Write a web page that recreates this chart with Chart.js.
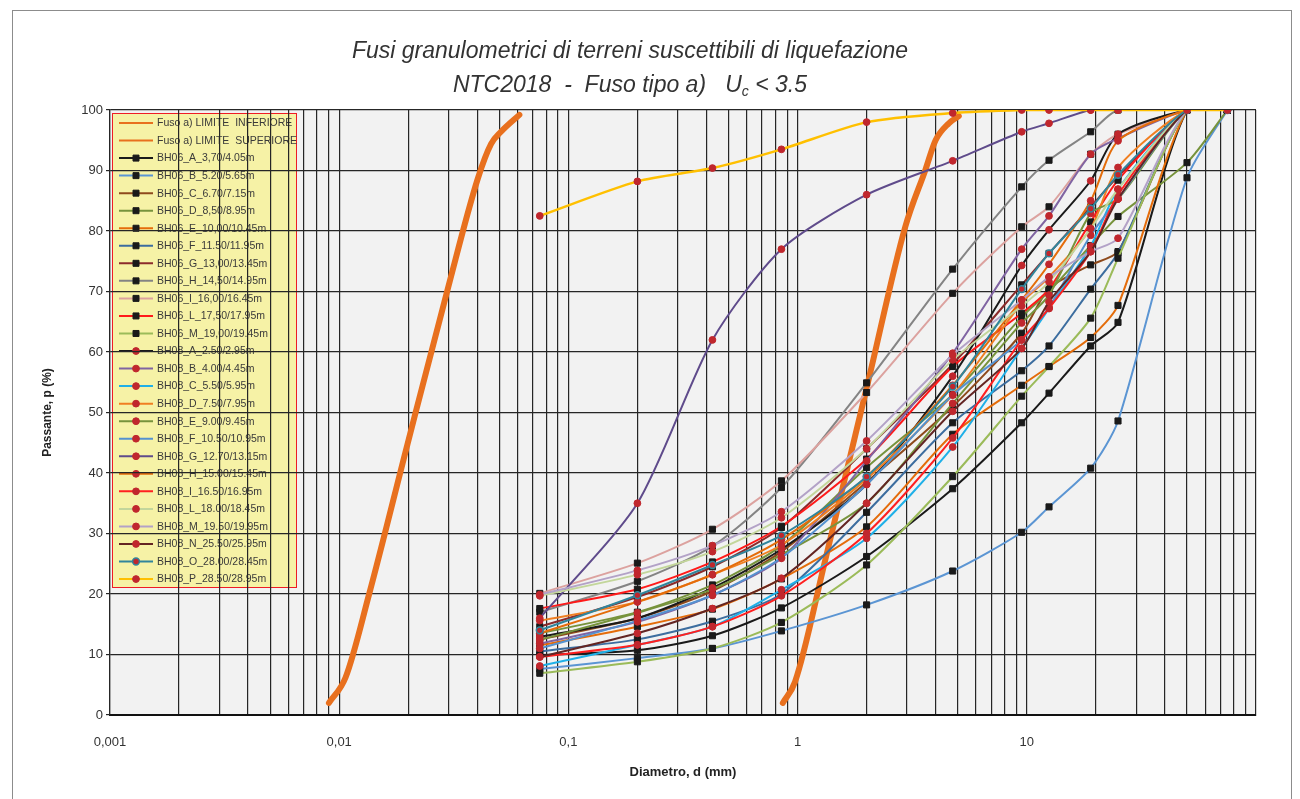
<!DOCTYPE html>
<html>
<head>
<meta charset="utf-8">
<script src="https://cdn.jsdelivr.net/npm/chart.js@4.4.1/dist/chart.umd.min.js"></script>
<style>
    body { margin: 0; background: #fff; }
    #wrap { position: relative; width: 1300px; height: 799px; overflow: hidden; }
    #frame { position: absolute; left: 12px; top: 10px; width: 1278px; height: 800px; border: 1px solid #8c8c8c; }
    #c { position: absolute; left: 0; top: 0; }
    #title {
        position: absolute; left: 280px; width: 700px; top: 33px; text-align: center;
        font: italic 23px 'Liberation Sans Narrow', 'Arial Narrow', Arial, sans-serif;
        color: #333; line-height: 34px;
    }
    #title sub { font-size: 14px; vertical-align: -4px; line-height: 0; }
</style>
</head>
<body>
<div id="wrap">
    <div id="frame"></div>
    <canvas id="c" width="1300" height="799"></canvas>
    <div id="title">Fusi granulometrici di terreni suscettibili di liquefazione<br>NTC2018&nbsp; - &nbsp;Fuso tipo a) &nbsp; U<sub>c</sub> &lt; 3.5</div>
</div>
<script>
// sieve sizes (mm)
const sieveSizes = [0.075, 0.2, 0.425, 0.85, 2, 4.75, 9.5, 12.5, 19, 25, 50, 75];

// fuso limits
const fusoInfD = [0.862, 0.975, 1.32, 2.04, 2.95, 3.61, 4.0, 4.57, 5.05];
const fusoInfP = [2.0, 5.5, 25.6, 55.4, 80.7, 90.1, 95.0, 97.8, 99.0];
const fusoSupD = [0.00902, 0.01066, 0.01349, 0.01987, 0.0297, 0.0402, 0.046, 0.0508, 0.0611];
const fusoSupP = [2.0, 6.2, 19.9, 44.8, 70.3, 88.6, 94.4, 96.4, 99.2];

// passing (%) per sample
const bh06_A = [9.9, 10.7, 13.1, 17.7, 26.2, 37.4, 48.3, 53.2, 61.0, 64.9, 100, 100];
const bh06_B = [7.6, 9.4, 11.0, 13.9, 18.2, 23.8, 30.2, 34.4, 40.8, 48.6, 88.8, 100];
const bh06_C = [12.5, 16.0, 20.5, 27.0, 38.5, 51.0, 63.1, 70.5, 74.4, 76.6, 100, 100];
const bh06_D = [13.5, 17.0, 21.5, 28.0, 40.9, 53.0, 65.8, 70.0, 77.6, 82.4, 91.3, 100];
const bh06_E = [11.5, 14.6, 17.5, 22.5, 31.1, 46.4, 54.5, 57.6, 62.4, 67.7, 100, 100];
const bh06_F = [10.5, 12.5, 15.5, 20.0, 33.5, 48.3, 56.9, 61.0, 70.4, 76.4, 100, 100];
const bh06_G = [14.6, 19.5, 24.5, 31.0, 44.0, 58.0, 71.1, 76.3, 84.0, 89.0, 100, 100];
const bh06_H = [17.0, 22.1, 27.9, 37.6, 54.9, 73.7, 87.3, 91.7, 96.4, 100, 100, 100];
const bh06_I = [20.1, 25.1, 30.7, 38.7, 53.3, 69.7, 80.7, 84.0, 92.7, 96.0, 100, 100];
const bh06_L = [17.6, 20.8, 25.3, 31.2, 42.3, 57.6, 66.4, 70.4, 81.5, 88.4, 100, 100];
const bh06_M = [6.9, 8.8, 11.0, 15.3, 24.8, 39.4, 52.7, 57.6, 65.6, 75.5, 100, 100];

const bh08_A = [12.9, 16.0, 21.0, 27.4, 38.1, 56.0, 74.3, 80.2, 88.3, 96.0, 100, 100];
const bh08_B = [11.8, 15.4, 19.8, 25.9, 42.0, 59.8, 77.0, 82.5, 92.7, 95.3, 100, 100];
const bh08_C = [8.1, 11.6, 14.6, 20.7, 29.2, 44.3, 60.6, 67.2, 77.5, 86.9, 100, 100];
const bh08_D = [15.6, 18.7, 23.2, 28.1, 39.0, 52.9, 68.1, 72.4, 80.4, 90.5, 100, 100];
const bh08_E = [12.4, 16.9, 20.8, 26.5, 35.0, 51.5, 64.8, 69.4, 82.9, 85.3, 100, 100];
const bh08_F = [11.0, 15.6, 19.8, 26.0, 38.1, 52.9, 62.0, 67.4, 79.3, 85.3, 100, 100];
const bh08_G = [16.0, 35.0, 62.0, 77.0, 86.0, 91.6, 96.4, 97.8, 100, 100, 100, 100];
const bh08_H = [13.5, 18.7, 23.2, 29.0, 39.4, 54.5, 68.6, 74.5, 85.0, 94.9, 100, 100];
const bh08_I = [9.6, 11.6, 14.6, 19.7, 30.0, 45.8, 62.0, 67.2, 76.6, 86.0, 100, 100];
const bh08_L = [19.7, 23.2, 27.0, 32.6, 44.0, 58.7, 67.6, 71.6, 80.4, 86.9, 100, 100];
const bh08_M = [19.9, 23.9, 28.0, 33.6, 45.3, 59.5, 68.6, 72.4, 76.6, 78.8, 100, 100];
const bh08_N = [9.6, 13.5, 17.6, 22.6, 35.0, 50.2, 60.6, 68.3, 76.6, 85.3, 100, 100];
const bh08_O = [14.0, 19.8, 24.8, 29.7, 39.4, 54.3, 70.4, 76.3, 83.7, 89.3, 100, 100];
const bh08_P = [82.5, 88.2, 90.4, 93.5, 98.0, 99.5, 100, 100, 100, 100, 100, 100];

// axis ticks
const xDecades = [0.001, 0.01, 0.1, 1, 10];
const xTickLabels = ['0,001', '0,01', '0,1', '1', '10'];
const xMantissas = [1, 2, 3, 4, 5, 6, 7, 8, 9];
const xMax = 100;

// series: label, values, line colour, marker type
const bh06Series = [
    ['BH06_A_3,70/4.05m', bh06_A, '#1a1a1a'],
    ['BH06_B_5.20/5.65m', bh06_B, '#5b95d3'],
    ['BH06_C_6.70/7.15m', bh06_C, '#8e4a1c'],
    ['BH06_D_8,50/8.95m', bh06_D, '#77933c'],
    ['BH06_E_10,00/10.45m', bh06_E, '#e46c0a'],
    ['BH06_F_11.50/11.95m', bh06_F, '#3c6d9f'],
    ['BH06_G_13,00/13.45m', bh06_G, '#8b2b2b'],
    ['BH06_H_14,50/14.95m', bh06_H, '#848484'],
    ['BH06_I_16,00/16.45m', bh06_I, '#dca29f'],
    ['BH06_L_17,50/17.95m', bh06_L, '#ff1a1a'],
    ['BH06_M_19,00/19.45m', bh06_M, '#9bbb59']
];
const bh08Series = [
    ['BH08_A_2.50/2.95m', bh08_A, '#1a1a1a'],
    ['BH08_B_4.00/4.45m', bh08_B, '#8064a2'],
    ['BH08_C_5.50/5.95m', bh08_C, '#1fb0e8'],
    ['BH08_D_7.50/7.95m', bh08_D, '#f07f22'],
    ['BH08_E_9.00/9.45m', bh08_E, '#77933c'],
    ['BH08_F_10.50/10.95m', bh08_F, '#5592d0'],
    ['BH08_G_12.70/13.15m', bh08_G, '#5f4b8b'],
    ['BH08_H_15.00/15.45m', bh08_H, '#e46c0a'],
    ['BH08_I_16.50/16.95m', bh08_I, '#ff2020'],
    ['BH08_L_18.00/18.45m', bh08_L, '#c3d69b'],
    ['BH08_M_19.50/19.95m', bh08_M, '#b3a2c7'],
    ['BH08_N_25.50/25.95m', bh08_N, '#632523'],
    ['BH08_O_28.00/28.45m', bh08_O, '#31859c'],
    ['BH08_P_28.50/28.95m', bh08_P, '#ffc000']
];

const fusoColor = '#e8701e';
const datasets = [];
datasets.push({
    label: 'Fuso a) LIMITE  INFERIORE',
    data: fusoInfD.map((d, i) => ({ x: d, y: fusoInfP[i] })),
    borderColor: fusoColor, borderWidth: 6, pointRadius: 0,
    cubicInterpolationMode: 'monotone', borderCapStyle: 'round'
});
datasets.push({
    label: 'Fuso a) LIMITE  SUPERIORE',
    data: fusoSupD.map((d, i) => ({ x: d, y: fusoSupP[i] })),
    borderColor: fusoColor, borderWidth: 6, pointRadius: 0,
    cubicInterpolationMode: 'monotone', borderCapStyle: 'round'
});
bh06Series.forEach(([label, vals, color]) => {
    datasets.push({
        label,
        data: sieveSizes.map((d, i) => ({ x: d, y: vals[i] })),
        borderColor: color, borderWidth: 2, tension: 0.25,
        pointStyle: 'rect', pointRadius: 4.3, pointBorderWidth: 1,
        pointBackgroundColor: '#1a1a1a', pointBorderColor: '#1a1a1a'
    });
});
bh08Series.forEach(([label, vals, color]) => {
    const teal = label.startsWith('BH08_O');
    datasets.push({
        label,
        data: sieveSizes.map((d, i) => ({ x: d, y: vals[i] })),
        borderColor: color, borderWidth: label.startsWith('BH08_P') ? 2.5 : 2, tension: 0.25,
        pointStyle: 'circle', pointRadius: 3.4, pointBorderWidth: teal ? 1.5 : 1,
        pointBackgroundColor: '#c0272d', pointBorderColor: teal ? '#31859c' : '#c0272d'
    });
});
// later series on top, as in the original
datasets.forEach((ds, i) => { ds.order = datasets.length - i; });

const xGridValues = [];
xDecades.forEach(d => xMantissas.forEach(m => xGridValues.push(+(d * m).toPrecision(6))));
xGridValues.push(xMax);

const narrow = "'Liberation Sans Narrow', 'Arial Narrow', Arial, sans-serif";

// plot background + legend under the grid
const backPlugin = {
    id: 'back',
    beforeDraw(chart) {
        const ctx = chart.ctx;
        const a = chart.chartArea;
        ctx.save();
        ctx.fillStyle = '#f2f2f2';
        ctx.fillRect(a.left, a.top, a.right - a.left, a.bottom - a.top);

        // legend box
        const bx = 112, by = 113, bw = 184, bh = 474;
        ctx.fillStyle = '#f6f2a6';
        ctx.fillRect(bx, by, bw, bh);
        ctx.strokeStyle = '#ee1c25';
        ctx.lineWidth = 1;
        ctx.strokeRect(bx + 0.5, by + 0.5, bw, bh);

        const step = 17.54;
        ctx.font = '10.5px ' + narrow;
        ctx.textBaseline = 'middle';
        chart.data.datasets.forEach((ds, i) => {
            const y = 123 + i * step;
            ctx.strokeStyle = ds.borderColor;
            ctx.lineWidth = 2;
            ctx.beginPath();
            ctx.moveTo(119, y);
            ctx.lineTo(153, y);
            ctx.stroke();
            if (ds.pointRadius > 0) {
                ctx.fillStyle = ds.pointBackgroundColor;
                ctx.strokeStyle = ds.pointBorderColor;
                ctx.lineWidth = ds.pointBorderWidth;
                ctx.beginPath();
                if (ds.pointStyle === 'rect') {
                    ctx.rect(133, y - 3, 6, 6);
                } else {
                    ctx.arc(136, y, 3.4, 0, Math.PI * 2);
                }
                ctx.fill();
                ctx.stroke();
            }
            ctx.fillStyle = '#3a3a3a';
            ctx.fillText(ds.label, 157, y + 0.5);
        });
        ctx.restore();
    }
};

new Chart(document.getElementById('c'), {
    type: 'line',
    data: { datasets },
    plugins: [backPlugin],
    options: {
        responsive: false,
        animation: false,
        events: [],
        layout: { padding: { left: 20, right: 44, top: 110, bottom: 0 } },
        plugins: {
            legend: { display: false },
            tooltip: { enabled: false },
            title: { display: false }
        },
        scales: {
            x: {
                type: 'logarithmic',
                min: 0.001,
                max: xMax,
                afterBuildTicks: s => { s.ticks = xGridValues.map(v => ({ value: v })); },
                afterFit: s => { s.height = 84; },
                grid: { color: '#262626', lineWidth: 1.2, drawTicks: false },
                border: { color: '#111', width: 2 },
                ticks: {
                    autoSkip: false, maxRotation: 0, padding: 20,
                    color: '#333', font: { size: 13, family: narrow },
                    callback: v => {
                        const k = xDecades.findIndex(d => Math.abs(v - d) / d < 1e-6);
                        return k >= 0 ? xTickLabels[k] : '';
                    }
                },
                title: {
                    display: true, text: 'Diametro, d (mm)', color: '#222',
                    font: { size: 13, weight: 'bold', family: narrow },
                    padding: { top: 0, bottom: 19 }
                }
            },
            y: {
                min: 0,
                max: 100,
                afterFit: s => { s.width = 90; },
                grid: { color: '#262626', lineWidth: 1.2, tickLength: 4 },
                border: { color: '#262626', width: 1.2 },
                ticks: {
                    stepSize: 10, padding: 3,
                    color: '#333', font: { size: 13, family: narrow }
                },
                title: {
                    display: true, text: 'Passante, p (%)', color: '#222',
                    font: { size: 12, weight: 'bold', family: narrow },
                    padding: { top: 20, bottom: 0 }
                }
            }
        }
    }
});
</script>
</body>
</html>
